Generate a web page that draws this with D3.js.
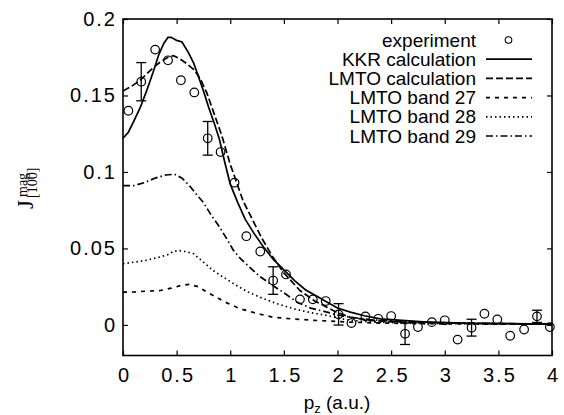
<!DOCTYPE html>
<html>
<head>
<meta charset="utf-8">
<script src="https://cdn.jsdelivr.net/npm/d3@7"></script>
<style>
  html, body { margin: 0; padding: 0; background: #fff; }
  svg { display: block; font-family: "Liberation Sans", Arial, sans-serif; }
</style>
</head>
<body>
<svg id="chart" width="564" height="415"></svg>
<script>
// Tick values
const xTicks = [0, 0.5, 1, 1.5, 2, 2.5, 3, 3.5, 4];
const yTicks = [0, 0.05, 0.1, 0.15, 0.2];

// Experiment (circles), error bars on every 5th point
const expX = [0.05, 0.17, 0.30, 0.42, 0.54, 0.665, 0.79, 0.91, 1.04, 1.15, 1.28, 1.40, 1.52, 1.65, 1.77, 1.89, 2.01,
              2.13, 2.26, 2.38, 2.50, 2.63, 2.75, 2.88, 3.00, 3.12, 3.25, 3.37, 3.49, 3.61, 3.74, 3.86, 3.98];
const expY = [0.140, 0.159, 0.180, 0.173, 0.160, 0.152, 0.122, 0.113, 0.093, 0.058, 0.048, 0.029, 0.033, 0.0167, 0.0167, 0.0156, 0.0069,
              0.0012, 0.0056, 0.004, 0.0058, -0.0058, -0.0014, 0.0018, 0.003, -0.0096, -0.0018, 0.0073, 0.0036, -0.0071, -0.003, 0.0056, -0.0014];
const errIndex = [1, 6, 11, 16, 21, 26, 31];
const errSize = [0.0125, 0.011, 0.009, 0.007, 0.007, 0.0055, 0.004];

// KKR calculation
const kkrX = [0, 0.05, 0.1, 0.16, 0.22, 0.28, 0.33, 0.38, 0.42, 0.45, 0.5, 0.55, 0.61, 0.66, 0.7, 0.75, 0.8, 0.85, 0.9, 0.95,
              1.0, 1.07, 1.14, 1.22, 1.31, 1.4, 1.5, 1.6, 1.7, 1.8, 1.9, 2.0, 2.12, 2.25, 2.4, 2.6, 2.8, 3.0, 3.3, 3.6, 4.0];
const kkrY = [0.122, 0.126, 0.133, 0.142, 0.153, 0.165, 0.176, 0.184, 0.188, 0.188, 0.186, 0.185, 0.178, 0.171, 0.163, 0.153, 0.142, 0.132, 0.121, 0.106,
              0.092, 0.080, 0.069, 0.060, 0.051, 0.043, 0.036, 0.029, 0.023, 0.019, 0.015, 0.011, 0.0084, 0.006, 0.004, 0.003, 0.002, 0.0015, 0.001, 0.0008, 0.0005];

// LMTO calculation
const lmtoX = [0, 0.08, 0.16, 0.22, 0.28, 0.35, 0.42, 0.47, 0.53, 0.59, 0.66, 0.72, 0.78, 0.84, 0.92, 1.0, 1.05, 1.12, 1.22, 1.3,
               1.4, 1.5, 1.65, 1.78, 1.9, 2.0, 2.12, 2.3, 2.5, 2.8, 3.2, 3.6, 4.0];
const lmtoY = [0.153, 0.156, 0.160, 0.164, 0.168, 0.172, 0.175, 0.176, 0.174, 0.171, 0.167, 0.161, 0.152, 0.140, 0.124, 0.105, 0.095, 0.081, 0.067, 0.056,
               0.044, 0.034, 0.0225, 0.016, 0.0116, 0.008, 0.005, 0.003, 0.002, 0.0015, 0.001, 0.0008, 0.0005];

// LMTO band 27
const band27X = [0, 0.1, 0.2, 0.35, 0.45, 0.55, 0.62, 0.7, 0.77, 0.84, 0.95, 1.09, 1.25, 1.4, 1.6, 1.78, 2.0, 2.12, 2.4, 2.8, 3.2, 3.6, 4.0];
const band27Y = [0.0214, 0.0215, 0.022, 0.0225, 0.024, 0.026, 0.0265, 0.025, 0.022, 0.0193, 0.015, 0.0106, 0.0075, 0.005, 0.0038, 0.003, 0.0022, 0.0018, 0.0012, 0.0008, 0.0006, 0.0005, 0.0004];

// LMTO band 28
const band28X = [0, 0.1, 0.2, 0.28, 0.35, 0.42, 0.47, 0.52, 0.58, 0.66, 0.75, 0.84, 0.94, 1.03, 1.15, 1.28, 1.43, 1.59, 1.75, 1.9, 2.0, 2.12, 2.3, 2.5, 2.8, 3.2, 3.6, 4.0];
const band28Y = [0.040, 0.041, 0.042, 0.0433, 0.0445, 0.046, 0.048, 0.0487, 0.048, 0.0465, 0.041, 0.0356, 0.031, 0.027, 0.022, 0.018, 0.014, 0.0106, 0.008, 0.0062, 0.0045, 0.003, 0.002, 0.0015, 0.001, 0.0008, 0.0006, 0.0004];

// LMTO band 29
const band29X = [0, 0.1, 0.2, 0.3, 0.4, 0.48, 0.55, 0.62, 0.7, 0.75, 0.82, 0.9, 0.97, 1.03, 1.1, 1.18, 1.27, 1.37, 1.5, 1.62, 1.75, 1.9, 2.0, 2.12, 2.3, 2.5, 2.8, 3.2, 3.6, 4.0];
const band29Y = [0.091, 0.091, 0.093, 0.096, 0.098, 0.0985, 0.096, 0.091, 0.084, 0.080, 0.072, 0.064, 0.056, 0.0487, 0.043, 0.0378, 0.032, 0.027, 0.021, 0.015, 0.011, 0.0084, 0.0065, 0.005, 0.0035, 0.0025, 0.0018, 0.0012, 0.0008, 0.0005];

const legendLabels = ["experiment", "KKR calculation", "LMTO calculation", "LMTO band 27", "LMTO band 28", "LMTO band 29"];

const frame = { left: 123, right: 552, top: 19, bottom: 355.5 };
const svg = d3.select("#chart");

const x = d3.scaleLinear().domain([0, 4]).range([frame.left, frame.right]);
const y = d3.scaleLinear().domain([-0.02, 0.2]).range([frame.bottom, frame.top]);

const zip = (xs, ys) => xs.map((v, i) => [v, ys[i]]);

const curves = [
    { data: zip(kkrX, kkrY), dash: null },
    { data: zip(lmtoX, lmtoY), dash: "7,3" },
    { data: zip(band27X, band27Y), dash: "4,5" },
    { data: zip(band28X, band28Y), dash: "1.5,3" },
    { data: zip(band29X, band29Y), dash: "7,3,1.5,3" }
];

// Axes: ticks inward, mirrored on top and right
const tickLen = 5;
const axisStyle = g => {
    g.select(".domain").remove();
    g.selectAll(".tick line").attr("stroke", "#000").attr("stroke-width", 1.2);
};
const labelStyle = g => g.selectAll("text")
    .attr("font-size", 20)
    .attr("letter-spacing", 2)
    .attr("fill", "#000")
    .attr("font-family", "Liberation Sans");

svg.append("g")
    .attr("transform", `translate(0,${frame.bottom})`)
    .call(d3.axisBottom(x).tickValues(xTicks).tickSize(-tickLen).tickPadding(12).tickFormat(d3.format("")))
    .call(axisStyle)
    .call(labelStyle)
    .call(g => g.selectAll("text").attr("dx", 1));

svg.append("g")
    .attr("transform", `translate(0,${frame.top})`)
    .call(d3.axisTop(x).tickValues(xTicks).tickSize(-tickLen).tickFormat(""))
    .call(axisStyle);

svg.append("g")
    .attr("transform", `translate(${frame.left},0)`)
    .call(d3.axisLeft(y).tickValues(yTicks).tickSize(-tickLen).tickPadding(6).tickFormat(d3.format("")))
    .call(axisStyle)
    .call(labelStyle);

svg.append("g")
    .attr("transform", `translate(${frame.right},0)`)
    .call(d3.axisRight(y).tickValues(yTicks).tickSize(-tickLen).tickFormat(""))
    .call(axisStyle);

// Curves
const line = d3.line().x(d => x(d[0])).y(d => y(d[1]));
curves.forEach(c => {
    svg.append("path")
        .datum(c.data)
        .attr("fill", "none")
        .attr("stroke", "#000")
        .attr("stroke-width", 1.7)
        .attr("stroke-dasharray", c.dash)
        .attr("d", line);
});

// Error bars
const capHalf = 5;
const bars = svg.append("g").attr("stroke", "#000").attr("stroke-width", 1.3);
errIndex.forEach((idx, k) => {
    const cx = x(expX[idx]);
    const lo = y(expY[idx] - errSize[k]);
    const hi = y(expY[idx] + errSize[k]);
    bars.append("line").attr("x1", cx).attr("x2", cx).attr("y1", lo).attr("y2", hi);
    bars.append("line").attr("x1", cx - capHalf).attr("x2", cx + capHalf).attr("y1", lo).attr("y2", lo);
    bars.append("line").attr("x1", cx - capHalf).attr("x2", cx + capHalf).attr("y1", hi).attr("y2", hi);
});

// Experiment circles
svg.append("g")
    .selectAll("circle")
    .data(zip(expX, expY))
    .join("circle")
    .attr("cx", d => x(d[0]))
    .attr("cy", d => y(d[1]))
    .attr("r", 4.3)
    .attr("fill", "none")
    .attr("stroke", "#000")
    .attr("stroke-width", 1.2);

// Frame
svg.append("rect")
    .attr("x", frame.left).attr("y", frame.top)
    .attr("width", frame.right - frame.left).attr("height", frame.bottom - frame.top)
    .attr("fill", "none").attr("stroke", "#000").attr("stroke-width", 1.6);

// Legend
const legend = svg.append("g");
const rowY = i => 40 + i * 19.2;
legendLabels.forEach((label, i) => {
    legend.append("text")
        .attr("x", 476).attr("y", rowY(i))
        .attr("dy", "0.35em")
        .attr("text-anchor", "end")
        .attr("font-size", 19)
        .text(label);
    if (i === 0) {
        legend.append("circle")
            .attr("cx", 508.5).attr("cy", rowY(i)).attr("r", 3.3)
            .attr("fill", "none").attr("stroke", "#000").attr("stroke-width", 1.1);
    } else {
        legend.append("line")
            .attr("x1", 486).attr("x2", 532)
            .attr("y1", rowY(i)).attr("y2", rowY(i))
            .attr("stroke", "#000").attr("stroke-width", 1.7)
            .attr("stroke-dasharray", curves[i - 1].dash);
    }
});

// X axis label
const xLabel = svg.append("text")
    .attr("x", 337).attr("y", 409)
    .attr("text-anchor", "middle")
    .attr("font-size", 19);
xLabel.append("tspan").text("p");
xLabel.append("tspan").attr("font-size", 13).attr("dy", 4).text("z");
xLabel.append("tspan").attr("dy", -4).text(" (a.u.)");

// Y axis label (rotated)
const yLabel = svg.append("g")
    .attr("transform", "translate(28,190) rotate(-90)")
    .attr("font-family", "Liberation Serif, serif");
yLabel.append("text").attr("x", -19).attr("y", 5).attr("font-size", 23).text("J");
yLabel.append("text").attr("x", -7).attr("y", -1).attr("font-size", 14).text("mag");
yLabel.append("text").attr("x", -8).attr("y", 8.5).attr("font-size", 14).text("[100]");
</script>
</body>
</html>
